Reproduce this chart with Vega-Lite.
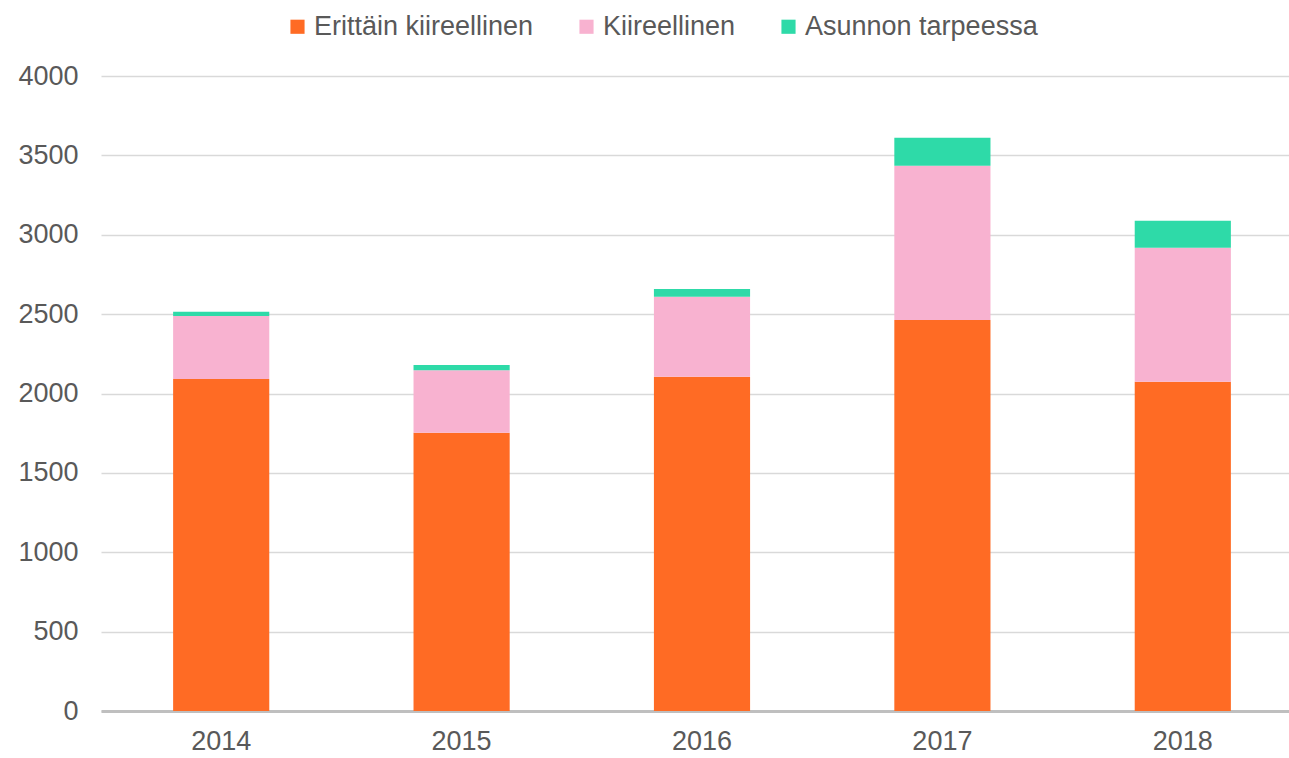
{
  "$schema": "https://vega.github.io/schema/vega-lite/v6.json",
  "autosize": {"type": "none"},
  "padding": {"left": 101, "top": 76, "right": 0, "bottom": 47},
  "width": 1202,
  "height": 635,
  "background": "white",
  "config": {
    "font": "Liberation Sans",
    "view": {"stroke": null}
  },
  "data": {
    "values": [
      {"year": "2014", "category": "Erittäin kiireellinen", "ord": 1, "value": 2091},
      {"year": "2014", "category": "Kiireellinen", "ord": 2, "value": 397},
      {"year": "2014", "category": "Asunnon tarpeessa", "ord": 3, "value": 27},
      {"year": "2015", "category": "Erittäin kiireellinen", "ord": 1, "value": 1753},
      {"year": "2015", "category": "Kiireellinen", "ord": 2, "value": 393},
      {"year": "2015", "category": "Asunnon tarpeessa", "ord": 3, "value": 34},
      {"year": "2016", "category": "Erittäin kiireellinen", "ord": 1, "value": 2106},
      {"year": "2016", "category": "Kiireellinen", "ord": 2, "value": 504},
      {"year": "2016", "category": "Asunnon tarpeessa", "ord": 3, "value": 48},
      {"year": "2017", "category": "Erittäin kiireellinen", "ord": 1, "value": 2463},
      {"year": "2017", "category": "Kiireellinen", "ord": 2, "value": 972},
      {"year": "2017", "category": "Asunnon tarpeessa", "ord": 3, "value": 176},
      {"year": "2018", "category": "Erittäin kiireellinen", "ord": 1, "value": 2074},
      {"year": "2018", "category": "Kiireellinen", "ord": 2, "value": 844},
      {"year": "2018", "category": "Asunnon tarpeessa", "ord": 3, "value": 170}
    ]
  },
  "mark": {"type": "bar"},
  "encoding": {
    "x": {
      "field": "year",
      "type": "nominal",
      "scale": {"paddingInner": 0.6, "paddingOuter": 0.3},
      "axis": {
        "title": null,
        "labelAngle": 0,
        "labelFontSize": 27,
        "labelColor": "#595959",
        "labelPadding": 17,
        "ticks": false,
        "domainColor": "#bfbfbf",
        "domainWidth": 3,
        "grid": false
      }
    },
    "y": {
      "field": "value",
      "type": "quantitative",
      "stack": "zero",
      "scale": {"domain": [0, 4000], "nice": false},
      "axis": {
        "title": null,
        "format": "d",
        "values": [0, 500, 1000, 1500, 2000, 2500, 3000, 3500, 4000],
        "labelFontSize": 27,
        "labelColor": "#595959",
        "labelPadding": 23,
        "ticks": false,
        "domain": false,
        "gridColor": "#d9d9d9",
        "gridWidth": 1.5
      }
    },
    "color": {
      "field": "category",
      "type": "nominal",
      "sort": ["Erittäin kiireellinen", "Kiireellinen", "Asunnon tarpeessa"],
      "scale": {
        "domain": ["Erittäin kiireellinen", "Kiireellinen", "Asunnon tarpeessa"],
        "range": ["#ff6b24", "#f8b2d0", "#2edaa8"]
      },
      "legend": {
        "title": null,
        "orient": "none",
        "direction": "horizontal",
        "legendX": 183,
        "legendY": -63,
        "symbolType": "square",
        "symbolSize": 200,
        "symbolStrokeWidth": 0,
        "labelFontSize": 27,
        "labelLimit": 500,
        "labelColor": "#595959",
        "labelOffset": 3,
        "columnPadding": 39,
        "symbolOpacity": 1
      }
    },
    "order": {"field": "ord", "type": "quantitative"}
  }
}
